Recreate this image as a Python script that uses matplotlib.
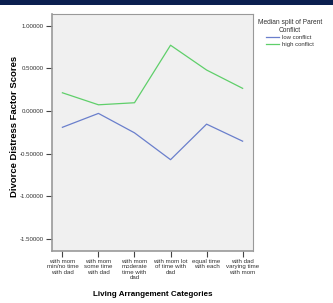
import matplotlib.pyplot as plt
import matplotlib.patches as mpatches

plt.rcParams["font.family"] = ["Liberation Sans", "DejaVu Sans"]

categories = ["with mom\nmin/no time\nwith dad", "with mom\nsome time\nwith dad",
              "with mom\nmoderate\ntime with\ndad", "with mom lot\nof time with\ndad",
              "equal time\nwith each", "with dad\nvarying time\nwith mom"]
low_conflict = [-0.19, -0.027, -0.255, -0.57, -0.153, -0.353]
high_conflict = [0.215, 0.074, 0.098, 0.773, 0.482, 0.267]
yticks = [1.0, 0.5, 0.0, -0.5, -1.0, -1.5]

fig = plt.figure(figsize=(3.33, 3.03), dpi=100)
fig.patch.set_facecolor("white")

# dark band across the top
fig.patches.append(mpatches.Rectangle((0, 0.985), 1, 0.015, transform=fig.transFigure,
                                      facecolor="#0b1f4f", edgecolor="none"))

ax = fig.add_axes([0.156, 0.172, 0.604, 0.782])
ax.set_facecolor("#f0f0f0")

x = range(len(categories))
ax.plot(x, low_conflict, color="#6a7fcc", lw=0.9, label="low conflict")
ax.plot(x, high_conflict, color="#5fcf6a", lw=0.9, label="high conflict")

ax.set_xlim(-0.29, 5.29)
ax.set_ylim(-1.64, 1.14)
ax.set_xticks(list(x))
ax.set_xticklabels(categories, fontsize=4.4, color="#333333", linespacing=1.05)
ax.set_yticks(yticks)
ax.set_yticklabels(["%.5f" % v for v in yticks], fontsize=4.4, color="#333333")
ax.tick_params(length=4, width=0.8, color="#444444", pad=2)

for s in ax.spines.values():
    s.set_color("#999999")
    s.set_linewidth(0.8)
ax.spines["left"].set_linewidth(1.2)
ax.spines["bottom"].set_linewidth(1.2)

ax.set_ylabel("Divorce Distress Factor Scores", fontsize=6.8, fontweight="bold")
ax.yaxis.set_label_coords(-0.163, 0.527)
ax.set_xlabel("Living Arrangement Categories", fontsize=5.8, fontweight="bold", labelpad=8)

leg = ax.legend(title="Median split of Parent\nConflict", loc="upper left",
                bbox_to_anchor=(1.0, 1.0), frameon=False, fontsize=4.3,
                title_fontsize=4.8, handlelength=2.2, handletextpad=0.5,
                labelspacing=0.25, borderpad=0.3)
leg.get_title().set_multialignment("center")
leg.get_title().set_color("#333333")
for t in leg.get_texts():
    t.set_color("#333333")

plt.savefig("out.png", dpi=100)
